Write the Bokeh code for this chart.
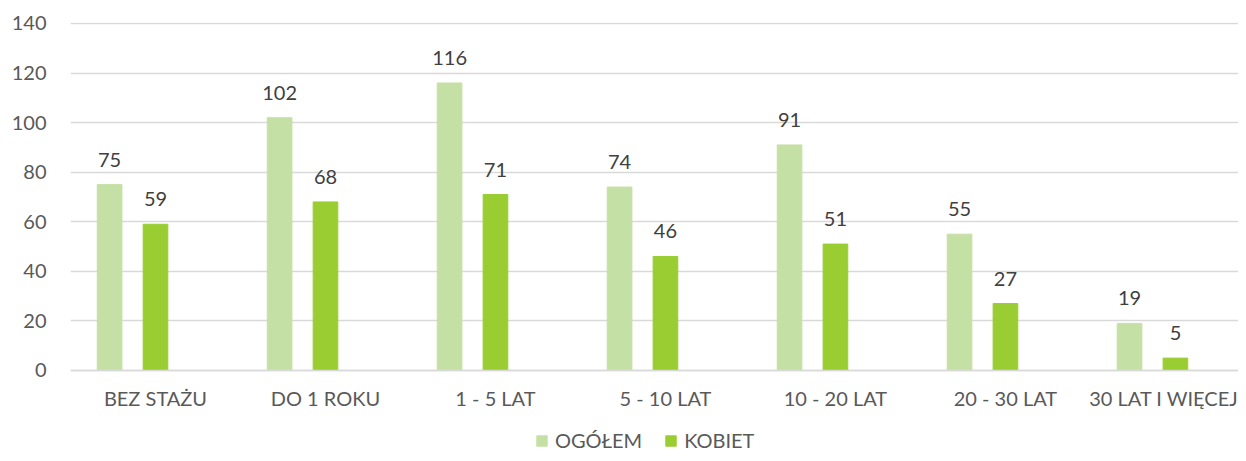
from bokeh.plotting import figure
from bokeh.models import ColumnDataSource, Range1d, FixedTicker, Legend, LegendItem
from bokeh.transform import dodge
from bokeh.core.properties import value
from bokeh.embed import file_html
from bokeh.resources import INLINE

categories = ["BEZ STAŻU", "DO 1 ROKU", "1 - 5 LAT", "5 - 10 LAT", "10 - 20 LAT", "20 - 30 LAT", "30 LAT I WIĘCEJ"]
ogolem = [75, 102, 116, 74, 91, 55, 19]
kobiet = [59, 68, 71, 46, 51, 27, 5]
series_names = ["OGÓŁEM", "KOBIET"]
y_ticks = [0, 20, 40, 60, 80, 100, 120, 140]

FONT = "Lato"
AXIS_COLOR = "#595959"
LABEL_COLOR = "#404040"
GRID = "#d9d9d9"
C1 = "#C5E0A5"
C2 = "#9ACD32"

pos = [i + 0.5 for i in range(len(categories))]
src = ColumnDataSource(dict(
    pos=pos, cat=categories, ogolem=ogolem, kobiet=kobiet,
    ogolem_t=[str(v) for v in ogolem], kobiet_t=[str(v) for v in kobiet],
))

# frame spans down to the canvas bottom; the value axis starts at 0 inside it
p = figure(width=1238, height=453, output_backend="svg", toolbar_location=None,
           x_range=Range1d(0, 6.871), y_range=Range1d(-33.49, 140.4),
           min_border_left=70, min_border_right=0, min_border_top=22, min_border_bottom=0)
p.outline_line_color = None
p.background_fill_color = "white"
p.border_fill_color = "white"

w = 0.145
r1 = p.vbar(x=dodge("pos", -0.27), top="ogolem", bottom=0, width=w, source=src, color=C1)
r2 = p.vbar(x="pos", top="kobiet", bottom=0, width=w, source=src, color=C2)

for col, off in (("ogolem", -0.27), ("kobiet", 0.0)):
    p.text(x=dodge("pos", off), y=col, text=col + "_t", source=src,
           text_align="center", text_baseline="alphabetic", y_offset=-25,
           text_font=value(FONT), text_font_size="20px", text_color=LABEL_COLOR)

# category axis drawn at y = 0
p.xaxis.fixed_location = 0
p.xaxis.ticker = FixedTicker(ticks=pos)
p.xaxis.major_label_overrides = {v: c for v, c in zip(pos, categories)}
p.xaxis.major_tick_line_color = None
p.xaxis.minor_tick_line_color = None
p.xaxis.major_tick_out = 0
p.xaxis.major_tick_in = 0
p.xaxis.axis_line_color = GRID
p.xaxis.axis_line_width = 1.5
p.xaxis.major_label_standoff = 16
p.xaxis.major_label_text_font = FONT
p.xaxis.major_label_text_font_size = "20px"
p.xaxis.major_label_text_color = AXIS_COLOR

p.yaxis.ticker = FixedTicker(ticks=y_ticks)
p.yaxis.axis_line_color = None
p.yaxis.major_tick_line_color = None
p.yaxis.minor_tick_line_color = None
p.yaxis.major_tick_out = 0
p.yaxis.major_tick_in = 0
p.yaxis.major_label_standoff = 24
p.yaxis.major_label_text_font = FONT
p.yaxis.major_label_text_font_size = "20px"
p.yaxis.major_label_text_color = AXIS_COLOR

p.xgrid.grid_line_color = None
p.ygrid.grid_line_color = GRID
p.ygrid.grid_line_width = 1.5

legend = Legend(items=[LegendItem(label=series_names[0], renderers=[r1]),
                       LegendItem(label=series_names[1], renderers=[r2])],
                orientation="horizontal", location=(465, 1),
                label_text_font=FONT, label_text_font_size="20px", label_text_color=AXIS_COLOR,
                glyph_width=13, glyph_height=13, label_standoff=7, spacing=22,
                padding=0, margin=0, border_line_color=None, background_fill_alpha=0)
p.add_layout(legend, "center")

open("out.html", "w").write(file_html(p, INLINE))
